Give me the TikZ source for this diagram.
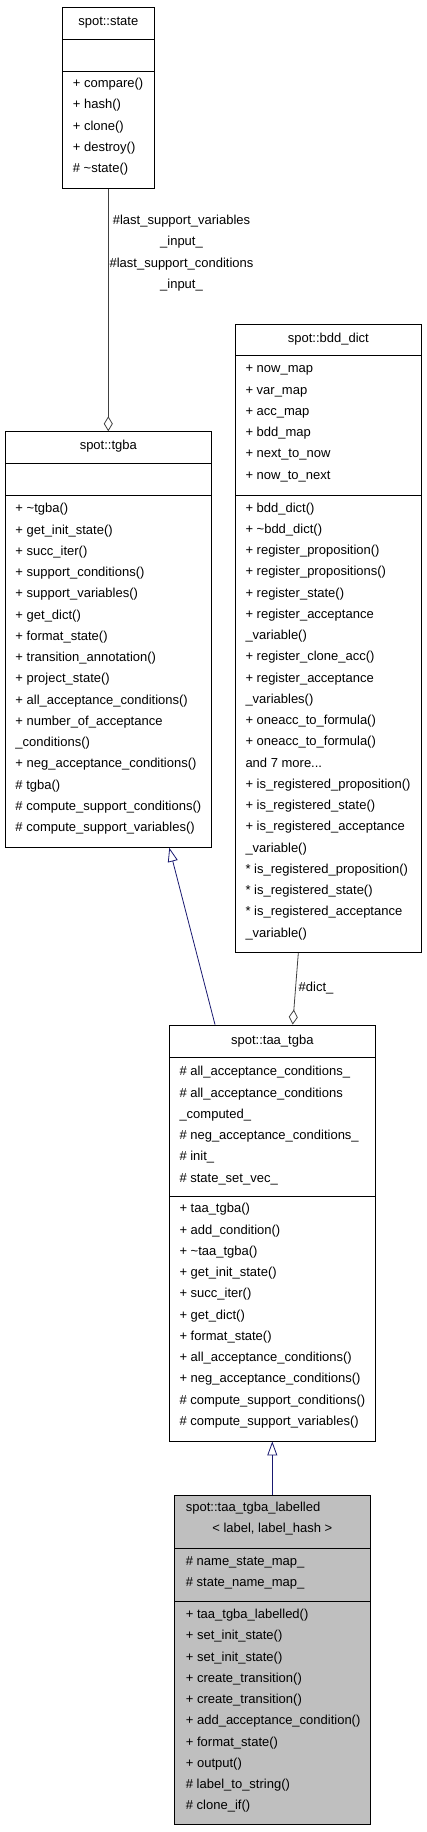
\documentclass[tikz,border=0pt]{standalone}
\usepackage{fontspec}
\setmainfont{Liberation Sans}
\usetikzlibrary{arrows.meta,calc}
\definecolor{edgeblue}{HTML}{191970}
\definecolor{edgegray}{HTML}{404040}
\definecolor{boxgray}{HTML}{BFBFBF}
\tikzset{
 classbox/.style={draw=black, line width=0.9pt, inner sep=0pt, fill=white},
 txt/.style={anchor=west, inner sep=0pt, text height=9.5pt, text depth=2.5pt, font=\fontsize{13}{15}\selectfont},
 ctxt/.style={txt, anchor=center},
 sep/.style={line width=0.9pt},
 aggr/.style={draw=edgegray, line width=0.8pt, -{Diamond[open, length=15pt, width=9pt]}},
 inherit/.style={draw=edgeblue, line width=0.8pt, -{Triangle[open, length=14pt, width=10pt]}},
}
\newcommand\classrows[4]{\foreach \t [count=\i] in {#4} {\node[txt] (#1\i) at (#2,{#3+(\i-1)*21.25}) {\t};}}
\begin{document}
\begin{tikzpicture}[x=1pt,y=-1pt]
\useasboundingbox (0,0) rectangle (427,1832);
% spot::state
\node[classbox, minimum width=92pt, minimum height=181pt] (state) at (108.3,97.8) {};
\node[ctxt] (statet) at (108.3,22) {spot::state};
\draw[sep] (62.3,39) -- (154.3,39);
\draw[sep] (62.3,71) -- (154.3,71);
\classrows{sr}{72.7}{84}{+ compare(), + hash(), + clone(), + destroy(), \# \textasciitilde state()}
% spot::tgba
\node[classbox, minimum width=206pt, minimum height=415.6pt] (tgba) at (108.3,639.5) {};
\node[ctxt] (tgbat) at (108.3,446) {spot::tgba};
\draw[sep] (5.3,463) -- (211.3,463);
\draw[sep] (5.3,495) -- (211.3,495);
\classrows{tr}{15.3}{509.3}{+ \textasciitilde tgba(), + get\_init\_state(), + succ\_iter(), + support\_conditions(), + support\_variables(), + get\_dict(), + format\_state(), + transition\_annotation(), + project\_state(), + all\_acceptance\_conditions(), + number\_of\_acceptance, \_conditions(), + neg\_acceptance\_conditions(), \# tgba(), \# compute\_support\_conditions(), \# compute\_support\_variables()}
% spot::bdd_dict
\node[classbox, minimum width=186pt, minimum height=628.4pt] (bdd) at (328.3,638.5) {};
\node[ctxt] (bddt) at (328.3,339) {spot::bdd\_dict};
\draw[sep] (235.3,355.7) -- (421.3,355.7);
\draw[sep] (235.3,495) -- (421.3,495);
\classrows{ba}{245.3}{369.3}{+ now\_map, + var\_map, + acc\_map, + bdd\_map, + next\_to\_now, + now\_to\_next}
\classrows{bm}{245.3}{508.7}{+ bdd\_dict(), + \textasciitilde bdd\_dict(), + register\_proposition(), + register\_propositions(), + register\_state(), + register\_acceptance, \_variable(), + register\_clone\_acc(), + register\_acceptance, \_variables(), + oneacc\_to\_formula(), + oneacc\_to\_formula(), and 7 more.{}.{}., + is\_registered\_proposition(), + is\_registered\_state(), + is\_registered\_acceptance, \_variable(), * is\_registered\_proposition(), * is\_registered\_state(), * is\_registered\_acceptance, \_variable()}
% spot::taa_tgba
\node[classbox, minimum width=206pt, minimum height=416pt] (taa) at (272.3,1233) {};
\node[ctxt] (taat) at (272.3,1041) {spot::taa\_tgba};
\draw[sep] (169.3,1057) -- (375.3,1057);
\draw[sep] (169.3,1196.7) -- (375.3,1196.7);
\classrows{ta}{179.3}{1072.3}{\# all\_acceptance\_conditions\_, \# all\_acceptance\_conditions, \_computed\_, \# neg\_acceptance\_conditions\_, \# init\_, \# state\_set\_vec\_}
\classrows{tm}{179.3}{1209.3}{+ taa\_tgba(), + add\_condition(), + \textasciitilde taa\_tgba(), + get\_init\_state(), + succ\_iter(), + get\_dict(), + format\_state(), + all\_acceptance\_conditions(), + neg\_acceptance\_conditions(), \# compute\_support\_conditions(), \# compute\_support\_variables()}
% spot::taa_tgba_labelled
\node[classbox, fill=boxgray, minimum width=196pt, minimum height=329.3pt] (lab) at (272.3,1659.65) {};
\node[txt] (labt1) at (185.7,1508.3) {spot::taa\_tgba\_labelled};
\node[ctxt] (labt2) at (272.3,1529.3) {< label, label\_hash >};
\draw[sep] (174.3,1548.7) -- (370.3,1548.7);
\draw[sep] (174.3,1601.3) -- (370.3,1601.3);
\classrows{la}{185.7}{1561.7}{\# name\_state\_map\_, \# state\_name\_map\_}
\classrows{lm}{185.7}{1615}{+ taa\_tgba\_labelled(), + set\_init\_state(), + set\_init\_state(), + create\_transition(), + create\_transition(), + add\_acceptance\_condition(), + format\_state(), + output(), \# label\_to\_string(), \# clone\_if()}
% edges
\draw[aggr] (state.south) -- (tgba.north);
\node[align=center, inner sep=0pt, font=\fontsize{13}{21.4}\selectfont] (lbl1) at (181.5,253) {\#last\_support\_variables\\\_input\_\\\#last\_support\_conditions\\\_input\_};
\draw[aggr] ($(bdd.south)+(-30,0)$) -- ($(taa.north)+(20.4,0)$);
\node[txt] (dictl) at (298.5,988) {\#dict\_};
\draw[inherit] ($(taa.north)+(-57.3,0)$) -- ($(tgba.south)+(61,0)$);
\draw[inherit] (lab.north) -- (taa.south);
\end{tikzpicture}
\end{document}
